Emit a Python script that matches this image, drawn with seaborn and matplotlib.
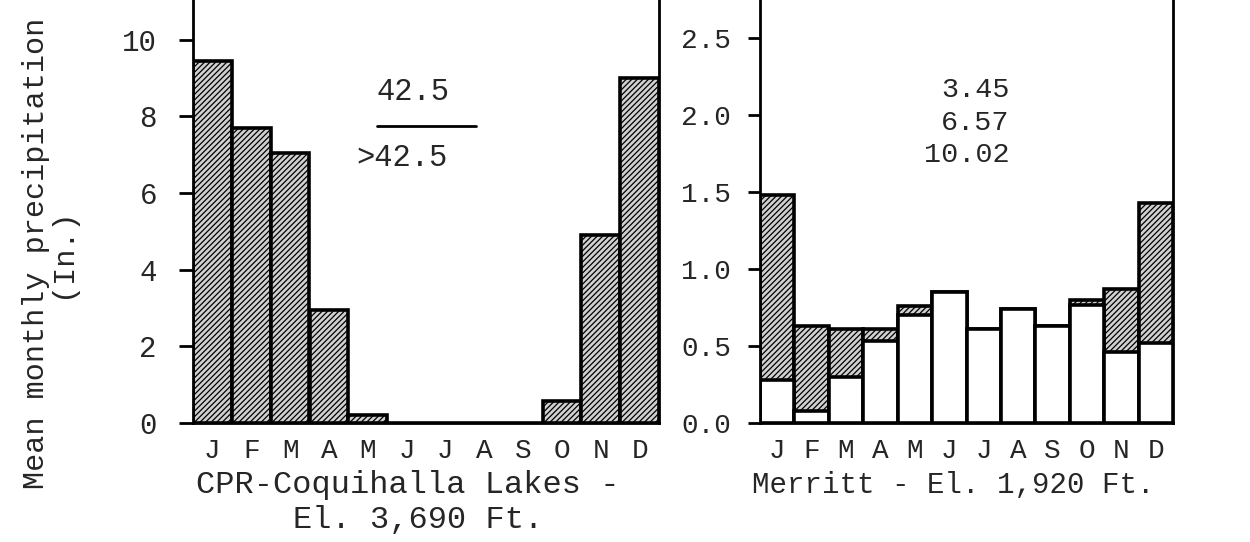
import numpy as np
import pandas as pd
import matplotlib
matplotlib.use("Agg")
import matplotlib.pyplot as plt
import seaborn as sns

months = ["J", "F", "M", "A", "M", "J", "J", "A", "S", "O", "N", "D"]
coq_total = [9.45, 7.7, 7.05, 2.95, 0.2, 0.0, 0.0, 0.0, 0.0, 0.57, 4.9, 9.0]
mer_total = [1.48, 0.63, 0.61, 0.61, 0.76, 0.85, 0.61, 0.74, 0.63, 0.80, 0.87, 1.43]
mer_rain = [0.28, 0.08, 0.30, 0.53, 0.70, 0.85, 0.61, 0.74, 0.63, 0.77, 0.46, 0.52]
coq_ticks = [0, 2, 4, 6, 8, 10]
mer_ticks = [0.0, 0.5, 1.0, 1.5, 2.0, 2.5]

sns.set_theme(style="white")
plt.rcParams["font.family"] = ["Liberation Mono", "DejaVu Sans Mono"]
plt.rcParams["hatch.linewidth"] = 0.9

FS_TICK = 20
fig = plt.figure(figsize=(12.5, 5.42), dpi=100)
ax1 = fig.add_axes([0.1544, 0.2196, 0.3728, 0.7804])
ax2 = fig.add_axes([0.608, 0.2196, 0.3304, 0.7804])

idx = np.arange(12)
df1 = pd.DataFrame({"m": idx, "v": coq_total})
df2 = pd.DataFrame({"m": idx, "total": mer_total, "rain": mer_rain})

hatch_face = "#d0d0d0"
hatch_col = "#1e1e1e"

sns.barplot(data=df1, x="m", y="v", ax=ax1, width=1.0, color=hatch_face,
            saturation=1, edgecolor="black", linewidth=2.6)
for p in ax1.patches:
    p.set_hatch("//////")
    if hasattr(p, "set_hatch_color"):
        p.set_hatch_color(hatch_col)

sns.barplot(data=df2, x="m", y="total", ax=ax2, width=1.0, color=hatch_face,
            saturation=1, edgecolor="black", linewidth=2.6)
for p in ax2.patches:
    p.set_hatch("//////")
    if hasattr(p, "set_hatch_color"):
        p.set_hatch_color(hatch_col)
sns.barplot(data=df2, x="m", y="rain", ax=ax2, width=1.0, color="white",
            saturation=1, edgecolor="black", linewidth=2.6)

for ax in (ax1, ax2):
    ax.set_xlim(-0.5, 11.5)
    ax.set_xticks(idx)
    ax.set_xticklabels(months, fontsize=FS_TICK)
    ax.tick_params(axis="x", length=0, pad=11)
    ax.set_xlabel("")
    ax.set_ylabel("")
    for s in ("left", "right", "bottom"):
        ax.spines[s].set_visible(True)
        ax.spines[s].set_color("black")
        ax.spines[s].set_linewidth(2)
    ax.spines["top"].set_visible(False)
    ax.patch.set_alpha(0)

ax1.set_ylim(0, 11.04)
ax1.set_yticks(coq_ticks)
ax1.set_yticklabels([str(t) for t in coq_ticks], fontsize=FS_TICK + 1)
ax1.tick_params(axis="y", direction="out", length=10, width=2, pad=16, left=True, color="black")

ax2.set_ylim(0, 2.75)
ax2.set_yticks(mer_ticks)
ax2.set_yticklabels([f"{t:.1f}" for t in mer_ticks], fontsize=FS_TICK)
ax2.tick_params(axis="y", direction="out", length=9, width=2, pad=12, left=True, color="black")

# annotations
ax1.text(0.472, 0.782, "42.5", transform=ax1.transAxes, ha="center", va="center", fontsize=22)
ax1.plot([0.395, 0.607], [0.702, 0.702], transform=ax1.transAxes, color="black", lw=2)
ax1.text(0.449, 0.627, ">42.5", transform=ax1.transAxes, ha="center", va="center", fontsize=22)

for t, y in zip(["3.45", "6.57", "10.02"], [0.787, 0.709, 0.634]):
    ax2.text(0.605, y, t, transform=ax2.transAxes, ha="right", va="center", fontsize=20.5)

fig.text(0.3265, 0.105, "CPR-Coquihalla Lakes -", ha="center", va="center", fontsize=23)
fig.text(0.3345, 0.040, "El. 3,690 Ft.", ha="center", va="center", fontsize=23)
fig.text(0.7625, 0.105, "Merritt - El. 1,920 Ft.", ha="center", va="center", fontsize=21)

fig.text(0.039, 0.533, "Mean monthly precipitation\n(In.)", rotation=90, ha="center",
         va="center", fontsize=21.7, multialignment="center", linespacing=0.9)

fig.savefig("out.png", dpi=100)
